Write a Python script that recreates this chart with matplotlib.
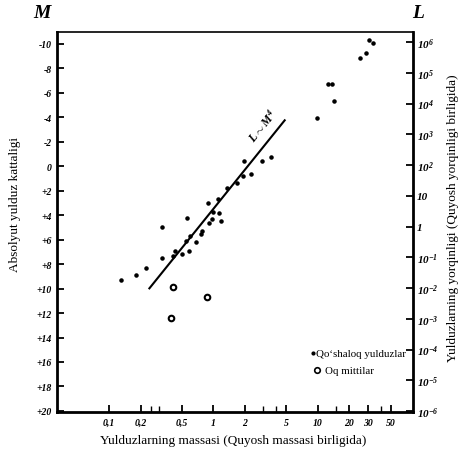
import matplotlib.pyplot as plt
import numpy as np

# qo'shaloq yulduzlar: massa (Quyosh massasi), absolyut kattalik
ms_mass = [0.131, 0.18, 0.227, 0.323, 0.323, 0.41, 0.43, 0.50, 0.58, 0.56, 0.54, 0.68,
           0.59, 0.78, 0.76, 0.90, 0.89, 0.97, 1.0, 1.10, 1.14, 1.17, 1.35, 1.69, 1.95,
           2.27, 1.9, 2.9, 3.6, 9.9, 12.6, 13.6, 14.4, 25.3, 29.0, 31.1, 33.6]
ms_mag = [9.3, 8.9, 8.35, 7.5, 4.98, 7.3, 6.9, 7.2, 6.9, 4.2, 6.1, 6.2,
          5.7, 5.3, 5.5, 4.6, 3.0, 4.3, 3.7, 2.7, 3.8, 4.5, 1.8, 1.4, -0.4,
          0.6, 0.8, -0.4, -0.8, -3.95, -6.75, -6.75, -5.3, -8.86, -9.27, -10.35, -10.1]

# oq mittilar
wd_mass = [0.41, 0.86, 0.39]
wd_mag = [9.9, 10.7, 12.4]

# L ~ M^4 chizig'i
line_mass = [0.243, 4.82]
line_mag = [9.98, -3.76]

mag_ticks = list(range(-10, 21, 2))
mag_labels = ['-10', '-8', '-6', '-4', '-2', '0', '+2', '+4', '+6', '+8', '+10',
              '+12', '+14', '+16', '+18', '+20']
mass_ticks = [0.1, 0.2, 0.5, 1, 2, 5, 10, 20, 30, 50]
mass_labels = ['0,1', '0,2', '0,5', '1', '2', '5', '10', '20', '30', '50']
mass_minor = [0.25, 0.3, 3, 4, 15, 40]
lum_ticks = list(range(6, -7, -1))
lum_labels = ['$10^{6}$', '$10^{5}$', '$10^{4}$', '$10^{3}$', '$10^{2}$', '10', '1',
              '$10^{-1}$', '$10^{-2}$', '$10^{-3}$', '$10^{-4}$', '$10^{-5}$', '$10^{-6}$']

plt.rcParams['font.family'] = ['Liberation Serif', 'DejaVu Serif']
plt.rcParams['mathtext.fontset'] = 'custom'
plt.rcParams['mathtext.it'] = 'Liberation Serif:italic:bold'
plt.rcParams['mathtext.rm'] = 'Liberation Serif:italic:bold'

fig = plt.figure(figsize=(4.66, 4.56), dpi=100)
ax = fig.add_axes([57 / 466, 1 - 413 / 456, (413 - 57) / 466, (413 - 33) / 456])

ax.set_xscale('log')
ax.set_xlim(0.0316, 81.9)
ax.set_ylim(20.09, -10.98)

ax.plot(line_mass, line_mag, color='black', linewidth=1.5)
ax.scatter(ms_mass, ms_mag, s=5, color='black', zorder=3)
ax.scatter(wd_mass, wd_mag, s=16, facecolor='white', edgecolor='black', linewidth=1.5, zorder=3)

# yozuv chiziq bo'ylab
fig.text(262 / 466, 1 - 126 / 456, '$L \\sim M^{4}$', fontsize=8.5, rotation=51,
         ha='center', va='center')

# legend
ax.plot([0.72], [0.155], 'o', color='black', markersize=2, transform=ax.transAxes)
ax.text(0.728, 0.155, 'Qo\u2018shaloq yulduzlar', transform=ax.transAxes, fontsize=7.8,
        va='center')
ax.plot([0.73], [0.11], 'o', mfc='white', mec='black', markersize=4, mew=1.2,
        transform=ax.transAxes)
ax.text(0.752, 0.11, 'Oq mittilar', transform=ax.transAxes, fontsize=7.8, va='center')

ax.set_yticks(mag_ticks)
ax.set_yticklabels(mag_labels, fontsize=7, fontweight='bold', style='italic')
ax.set_xticks(mass_ticks)
ax.set_xticklabels(mass_labels, fontsize=7, fontweight='bold', style='italic')
ax.set_xticks(mass_minor, minor=True)
ax.tick_params(axis='both', which='major', direction='in', length=5, width=1.3, pad=4)
ax.tick_params(axis='x', which='minor', direction='in', length=4, width=1.0, labelbottom=False)

ax.spines['left'].set_linewidth(2)
ax.spines['bottom'].set_linewidth(2)
ax.spines['top'].set_linewidth(1.2)
ax.spines['right'].set_linewidth(2)

ax2 = ax.twinx()
ax2.set_ylim(-6.03, 6.33)
ax2.set_yticks(lum_ticks)
ax2.set_yticklabels(lum_labels, fontsize=8, fontweight='bold', style='italic')
ax2.tick_params(axis='y', direction='in', length=5, width=1.3, pad=3)
for s in ax2.spines.values():
    s.set_visible(False)

fig.text(42 / 466, 1 - 13 / 456, 'M', fontsize=14, fontweight='bold', style='italic',
         ha='center', va='center')
fig.text(418 / 466, 1 - 13 / 456, 'L', fontsize=14, fontweight='bold', style='italic',
         ha='center', va='center')

fig.text(233 / 466, 1 - 441 / 456, 'Yulduzlarning massasi (Quyosh massasi birligida)',
         fontsize=9.5, ha='center', va='center')
fig.text(15 / 466, 1 - 205 / 456, 'Absolyut yulduz kattaligi', fontsize=9.5,
         rotation=90, ha='center', va='center')
fig.text(453 / 466, 1 - 218 / 456, 'Yulduzlarning yorqinligi (Quyosh yorqinligi birligida)',
         fontsize=9.5, rotation=90, ha='center', va='center')

fig.savefig('out.png', dpi=100)
